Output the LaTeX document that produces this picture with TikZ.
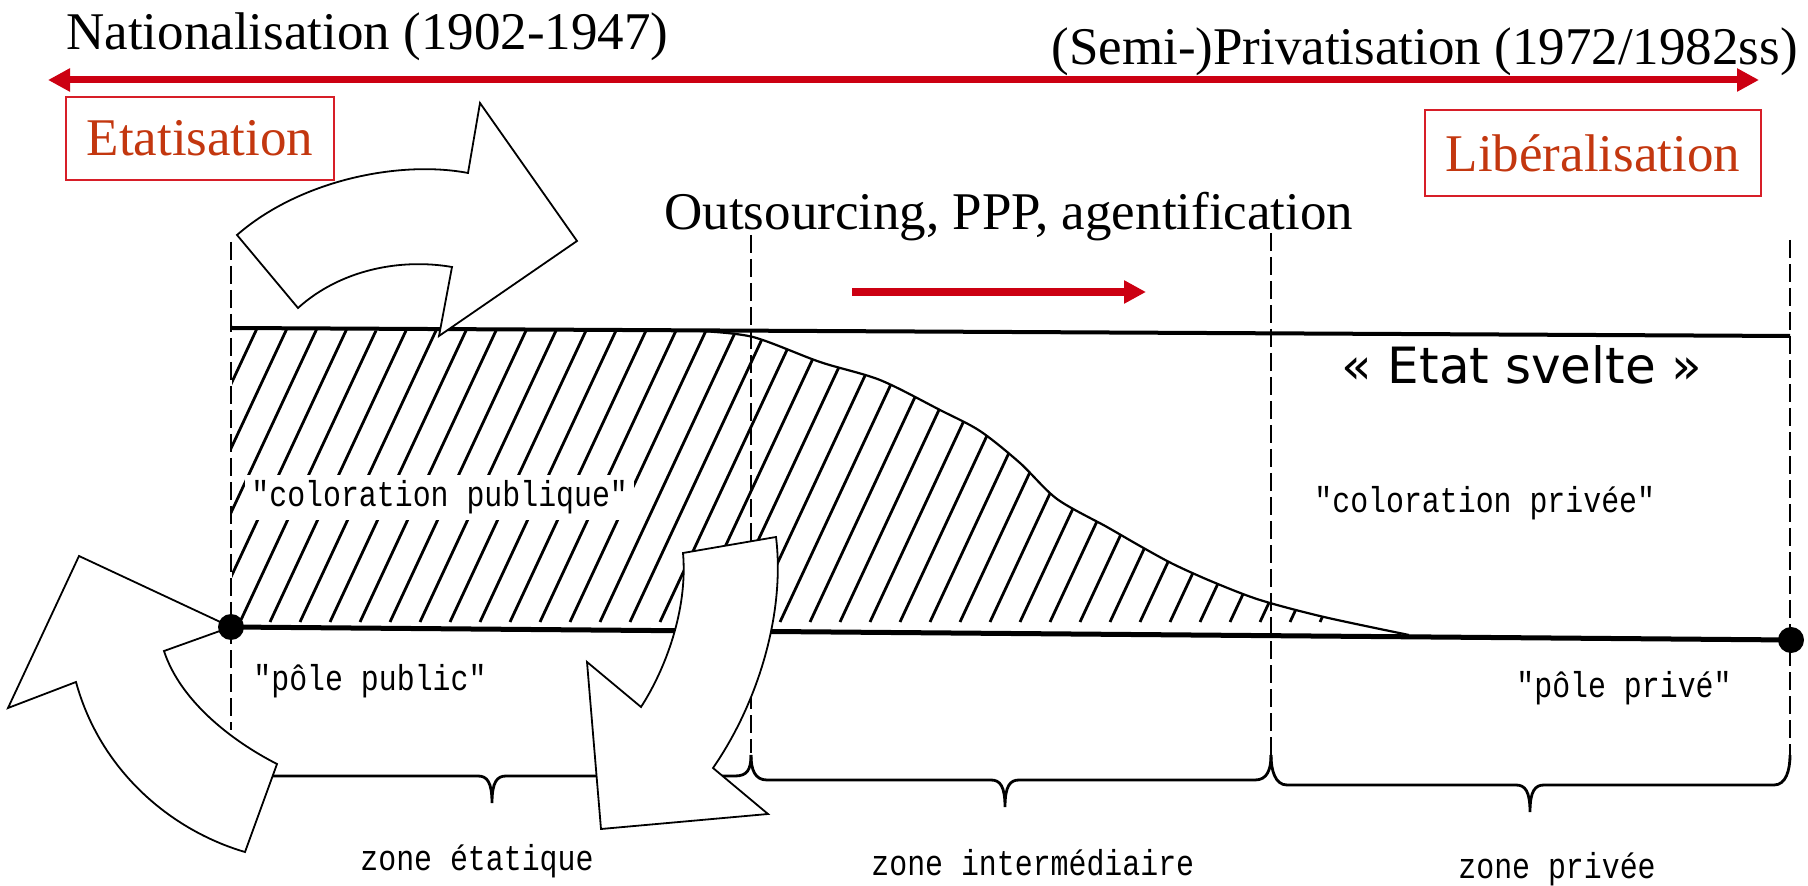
\documentclass[tikz,border=0pt]{standalone}
\usepackage{fontspec}
\setmainfont{Liberation Serif}
\newfontfamily\scanfont[FakeStretch=0.83]{Liberation Mono}
\newfontfamily\sveltefont{DejaVu Sans}
\usetikzlibrary{arrows.meta}
\definecolor{arrowred}{RGB}{204,0,18}
\definecolor{labelred}{RGB}{195,55,15}
\definecolor{boxred}{RGB}{215,30,40}

\begin{document}
\begin{tikzpicture}[x=0.5pt, y=-0.5pt,
  pole/.style={inner sep=0pt, minimum size=13pt, fill=black, circle},
  title/.style={anchor=base west, inner sep=0pt, font=\fontsize{26.5}{30}\selectfont},
  redbox/.style={draw=boxred, line width=0.8pt, text=labelred, inner sep=0pt, font=\fontsize{26.5}{30}\selectfont},
  scan/.style={anchor=base west, inner sep=0pt, font=\scanfont\fontsize{18}{20}\selectfont},
  zoneline/.style={dash pattern=on 9pt off 3pt, line width=0.9pt},
  bigarrow/.style={draw=black, fill=white, line width=0.9pt, line join=miter},
  >={Triangle[length=11pt, width=11pt]}]
\useasboundingbox (0,0) rectangle (1808,886);

\node[title] (nat) at (66,50) {Nationalisation (1902-1947)};
\node[title] (semi) at (1051,65) {(Semi-)Privatisation (1972/1982ss)};
\node[title] (outs) at (664,230) {Outsourcing, PPP, agentification};
\coordinate (natl) at (48,80);
\coordinate (privr) at (1759,80);
\draw[<->, arrowred, line width=3.5pt] (natl) -- (privr);
\node[redbox, minimum width=134pt, minimum height=41.5pt] (etat) at (200,138.5) {Etatisation};
\node[redbox, minimum width=168pt, minimum height=43pt] (lib) at (1593,153) {Libéralisation};
\coordinate (outa) at (852,292);
\coordinate (outb) at (1146,292);
\draw[->, arrowred, line width=4pt] (outa) -- (outb);

\begin{scope}
\clip (232,330) -- (720,331) -- plot[smooth] coordinates {(720,331) (753,337) (820,362) (880,380) (940,410) (980,431) (1020,463) (1057,499) (1107,527) (1140,546) (1173,564) (1213,582) (1260,600) (1324,617) (1409,635)} -- (232,627) -- cycle;
\foreach \x in {90,120,...,1420}
  \draw[line width=1.4pt] (\x,622) -- ++(140,-300);
\end{scope}
\draw[line width=2pt] (232,328) -- (1790,336);
\draw[line width=1.1pt] plot[smooth] coordinates {(700,331) (753,337) (820,362) (880,380) (940,410) (980,431) (1020,463) (1057,499) (1107,527) (1140,546) (1173,564) (1213,582) (1260,600) (1324,617) (1409,635)};
\coordinate (ppub) at (231,627);
\coordinate (ppriv) at (1791,640);
\draw[line width=2.5pt] (ppub) -- (ppriv);

\foreach \x/\ya/\yb in {231/242/730, 751/235/753, 1271/233/760, 1790/240/763}
  \draw[zoneline] (\x,\ya) -- (\x,\yb);
\foreach \xa/\xm/\xb/\yb in {231/492/751/776, 751/1005/1271/780, 1271/1530/1790/785}
  \draw[line width=1.4pt] (\xa,755) .. controls (\xa,770) and (\xa+4,\yb) .. (\xa+16,\yb) -- (\xm-14,\yb) .. controls (\xm-5,\yb) and (\xm,\yb+6) .. (\xm,\yb+27) .. controls (\xm,\yb+6) and (\xm+5,\yb) .. (\xm+14,\yb) -- (\xb-16,\yb) .. controls (\xb-4,\yb) and (\xb,770) .. (\xb,755);

\node[scan, fill=white, inner xsep=3pt, inner ysep=3pt] (colpub) at (245,507) {"coloration publique"};
\node[scan] (colpriv) at (1314,513) {"coloration privée"};
\node[scan] (polpub) at (253,690) {"pôle public"};
\node[scan] (polpriv) at (1516,697) {"pôle privé"};
\node[scan] (zetat) at (360,870) {zone étatique};
\node[scan] (zinter) at (871,875) {zone intermédiaire};
\node[scan] (zpriv) at (1458,878) {zone privée};
\node[anchor=base west, inner sep=0pt, font=\sveltefont\fontsize{25}{28}\selectfont] (svelte) at (1341,384) {« Etat svelte »};

\draw[bigarrow] (237,235) .. controls (300,180) and (400,160) .. (468,173) -- (480,103) -- (577,241) -- (439,336) -- (452,267) .. controls (400,258) and (340,270) .. (298,308) -- cycle;
\draw[bigarrow] (ppub) -- (164,651) .. controls (180,700) and (230,740) .. (277,764) -- (245,852) .. controls (170,830) and (100,770) .. (76,682) -- (8,708) -- (79,556) -- cycle;
\draw[bigarrow] (683,553) -- (776,537) .. controls (785,610) and (760,700) .. (713,768) -- (768,814) -- (601,829) -- (587,662) -- (641,707) .. controls (665,670) and (688,610) .. (683,553) -- cycle;
\node[pole] (dotpub) at (ppub) {};
\node[pole] (dotpriv) at (ppriv) {};
\end{tikzpicture}
\end{document}
